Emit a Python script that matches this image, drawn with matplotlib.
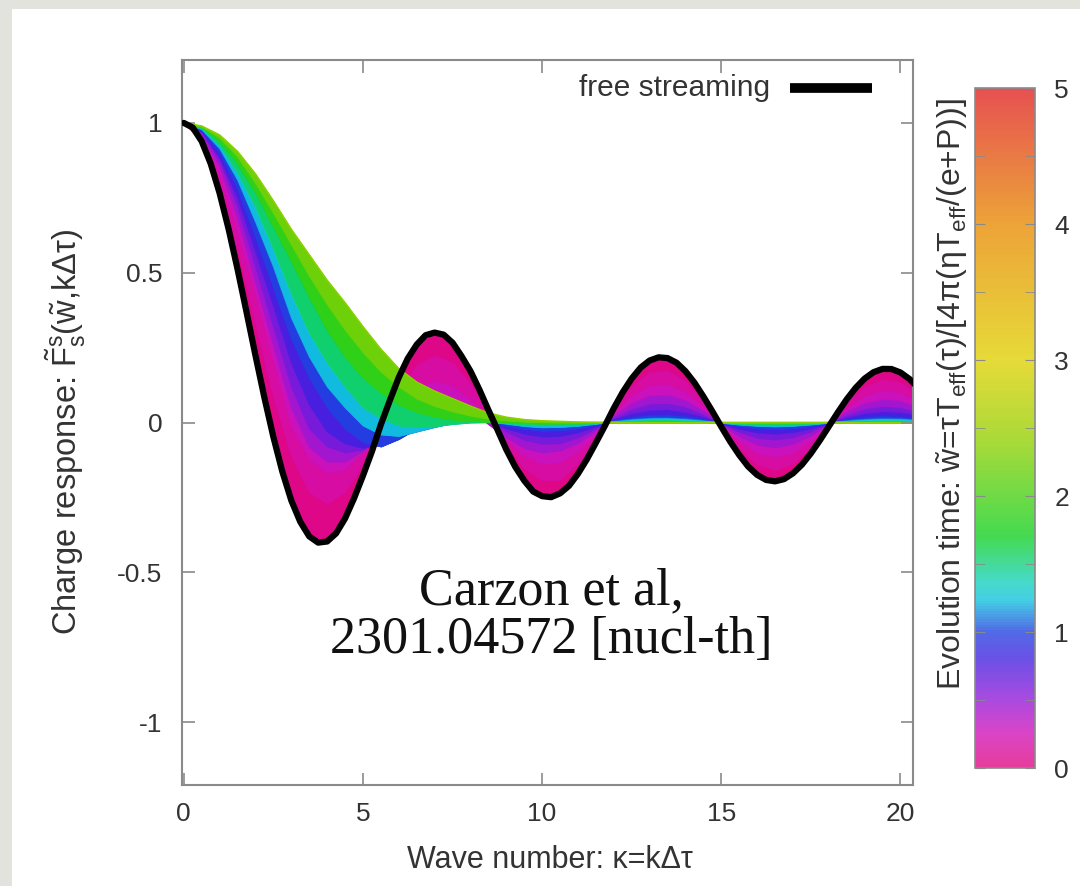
import matplotlib
matplotlib.use('Agg')
import matplotlib.pyplot as plt
import numpy as np
from matplotlib.colors import LinearSegmentedColormap, Normalize
from matplotlib.patches import Rectangle
import matplotlib.cm as cm

plt.rcParams['font.family'] = ['Liberation Sans', 'DejaVu Sans']
plt.rcParams['mathtext.fontset'] = 'custom'
plt.rcParams['mathtext.rm'] = 'Liberation Sans'
plt.rcParams['mathtext.it'] = 'Liberation Sans:italic'
plt.rcParams['axes.unicode_minus'] = False

# free streaming curve, read on a 0.25 grid (0 .. 20.5)
kappa_fine = np.arange(0, 20.51, 0.25)
free_streaming = [
    1.0, 0.9844, 0.9385, 0.8642, 0.7652, 0.6459, 0.5118, 0.3690, 0.2239, 0.0827,
    -0.0484, -0.1641, -0.2601, -0.3314, -0.3801, -0.4010, -0.3972, -0.3701, -0.3205, -0.2535,
    -0.1776, -0.0967, -0.0068, 0.0736, 0.1507, 0.2136, 0.2601, 0.2915, 0.3001, 0.2934,
    0.2663, 0.2217, 0.1717, 0.1096, 0.0419, -0.0233, -0.0903, -0.1480, -0.1939, -0.2304,
    -0.2459, -0.2493, -0.2366, -0.2114, -0.1712, -0.1226, -0.0677, -0.0115, 0.0477, 0.1013,
    0.1469, 0.1833, 0.2069, 0.2176, 0.2150, 0.1997, 0.1711, 0.1329, 0.0868, 0.0372,
    -0.0142, -0.0639, -0.1084, -0.1470, -0.1749, -0.1917, -0.1964, -0.1890, -0.1697, -0.1408,
    -0.1030, -0.0598, -0.0134, 0.0333, 0.0773, 0.1157, 0.1466, 0.1681, 0.1789, 0.1785,
    0.1670, 0.1454, 0.1151]

# family of curves at finite evolution time, read on a 0.5 grid (0 .. 20.5)
kappa = np.arange(0, 20.51, 0.5)
w_values = [0.1, 0.22, 0.36, 0.5, 0.68, 0.88, 1.1, 1.35, 1.7, 2.05, 2.4]

resp_w010 = [1.0, .946, .798, .580, .327, .086, -.110, -.232, -.270, -.231, -.134, -.012, .107, .190,
             .222, .199, .128, .030, -.072, -.153, -.193, -.190, -.137, -.054, .038, .118, .166, .172,
             .137, .070, -.011, -.086, -.140, -.158, -.136, -.082, -.010, .064, .118, .143, .134, .092]
resp_w022 = [1.0, .955, .83, .64, .43, .21, -.01, -.12, -.165, -.155, -.095, -.01, .065, .115,
             .135, .12, .075, .01, -.055, -.11, -.137, -.131, -.095, -.039, .028, .085, .120, .125,
             .099, .050, -.008, -.063, -.102, -.114, -.099, -.060, -.008, .046, .085, .104, .097, .067]
resp_w036 = [1.0, .962, .855, .685, .47, .26, .05, -.08, -.13, -.13, -.095, -.025, .04, .075,
             .088, .075, .04, -.005, -.05, -.085, -.100, -.094, -.068, -.027, .020, .062, .087, .090,
             .072, .037, -.006, -.045, -.074, -.083, -.071, -.043, -.005, .034, .062, .075, .070, .048]
resp_w050 = [1.0, .968, .873, .72, .52, .32, .12, -.02, -.08, -.10, -.09, -.05, .005, .04,
             .055, .055, .035, .005, -.03, -.058, -.071, -.069, -.050, -.020, .014, .043, .060, .062,
             .050, .025, -.004, -.031, -.051, -.057, -.049, -.030, -.004, .023, .043, .052, .048, .033]
resp_w068 = [1.0, .972, .885, .75, .57, .39, .20, .06, -.03, -.07, -.085, -.07, -.025, .01,
             .03, .035, .025, .005, -.02, -.037, -.047, -.045, -.033, -.013, .009, .028, .039, .041,
             .032, .017, -.003, -.021, -.033, -.037, -.032, -.020, -.002, .015, .028, .034, .032, .022]
resp_w088 = [1.0, .976, .90, .78, .62, .45, .28, .15, .05, -.02, -.065, -.08, -.055, -.02,
             .005, .015, .013, .003, -.01, -.021, -.027, -.026, -.019, -.0075, .005, .016, .023, .024,
             .019, .0096, -.0015, -.012, -.019, -.022, -.019, -.011, -.0014, .009, .016, .020, .018, .013]
resp_w110 = [1.0, .979, .915, .81, .67, .52, .35, .22, .12, .05, -.01, -.04, -.045, -.03,
             -.015, -.002, .004, .003, -.004, -.012, -.016, -.015, -.011, -.0045, .003, .0095, .0135, .014,
             .011, .0057, -.001, -.007, -.011, -.013, -.011, -.0067, -.001, .005, .0096, .012, .011, .0075]
resp_w135 = [1.0, .982, .925, .835, .72, .58, .43, .30, .20, .12, .05, .015, -.01, -.015,
             -.012, -.005, 0.0, .001, -.002, -.006, -.0086, -.0083, -.006, -.0024, .0017, .005, .0072, .0075,
             .006, .003, -.0005, -.0038, -.006, -.007, -.006, -.0036, -.0005, .0028, .005, .0063, .0058, .004]
resp_w170 = [1.0, .986, .94, .865, .77, .655, .54, .42, .31, .22, .15, .10, .06, .035,
             .02, .01, .005, .002, 0.0, -.002, -.0037, -.0036, -.0026, -.001, .0007, .0022, .0031, .0032,
             .0026, .0013, -.0002, -.0016, -.0026, -.003, -.0026, -.0015, -.0002, .0012, .0022, .0027, .0025, .0017]
resp_w205 = [1.0, .988, .951, .888, .80, .70, .595, .49, .395, .31, .235, .17, .12, .08,
             .055, .037, .023, .013, .007, .003, .001] + [0.0] * 21
resp_w240 = [1.0, .99, .96, .905, .83, .74, .645, .56, .475, .40, .32, .245, .18, .135,
             .105, .08, .055, .032, .018, .01, .006, .004, .002, .001] + [0.0] * 18

responses = [resp_w010, resp_w022, resp_w036, resp_w050, resp_w068, resp_w088,
             resp_w110, resp_w135, resp_w170, resp_w205, resp_w240]

cbar_ticks = [0, 1, 2, 3, 4, 5]

cmap = LinearSegmentedColormap.from_list('evo', [
    (0.00, '#e0057f'), (0.05, '#d010b8'), (0.10, '#9018d8'), (0.16, '#4020e0'),
    (0.20, '#2040e0'), (0.245, '#10c0e0'), (0.27, '#10d0c0'), (0.34, '#10d020'),
    (0.48, '#90d000'), (0.60, '#e0d000'), (0.80, '#e88a00'), (1.00, '#e02020')])
norm = Normalize(0, 5)

fig = plt.figure(figsize=(10.8, 8.86), dpi=100, facecolor='#e3e3de')
fig.patches.append(Rectangle((12 / 1080, 0), 1, 1 - 9 / 886, transform=fig.transFigure,
                             facecolor='white', edgecolor='none', zorder=-10))

ax = fig.add_axes([182 / 1080, 1 - 785 / 886, 731 / 1080, 725 / 886])

curves = [free_streaming[::2]] + responses
w_all = [0.0] + w_values
for i in range(1, len(curves)):
    wm = 0.5 * (w_all[i - 1] + w_all[i])
    col = cmap(norm(wm))
    ax.fill_between(kappa, curves[i - 1], curves[i], facecolor=col, edgecolor=col, lw=0.6,
                    zorder=1 + 0.02 * i)
    ax.plot(kappa, curves[i], color=cmap(norm(w_all[i])), lw=1.0, zorder=1.01 + 0.02 * i)

ax.plot(kappa_fine, free_streaming, color='black', lw=4.5, solid_capstyle='round', zorder=5)

ax.set_xlim(-0.05, 20.35)
ax.set_ylim(-1.21, 1.21)
ax.set_xticks([0, 5, 10, 15, 20])
ax.set_yticks([-1, -0.5, 0, 0.5, 1])
ax.set_yticklabels(['-1', '-0.5', '0', '0.5', '1'])
ax.tick_params(direction='in', length=9, width=1.2, color='#8a8a8a', labelsize=19,
               labelcolor='#333333', top=True, right=True, pad=14)
ax.tick_params(axis='x', pad=12)
for s in ax.spines.values():
    s.set_color('#8a8a8a')
    s.set_linewidth(1.5)

# key
ax.text(0.804, 0.961, 'free streaming', transform=ax.transAxes, ha='right', va='center',
        fontsize=21.5, color='#333333')
ax.plot([0.832, 0.944], [0.961, 0.961], transform=ax.transAxes, color='black', lw=7,
        solid_capstyle='butt', zorder=6)

fig.text(66 / 1080, 1 - 432 / 886,
         r'Charge response: $\tilde{\mathrm{F}}^{\mathrm{s}}_{\mathrm{s}}$($\tilde{\mathrm{w}}$,kΔτ)',
         rotation=90, ha='center', va='center', fontsize=23.5, color='#333333')
fig.text(550 / 1080, 1 - 860 / 886, 'Wave number: κ=kΔτ', ha='center', va='center',
         fontsize=22, color='#333333')

fig.text(551 / 1080, 1 - 616 / 886, 'Carzon et al,\n2301.04572 [nucl-th]',
         family=['Liberation Serif'], fontsize=37.5, ha='center', va='center',
         linespacing=1.02, color='#111111', zorder=20)

# colour bar
cax = fig.add_axes([975 / 1080, 1 - 768 / 886, 60 / 1080, 680 / 886])
sm = cm.ScalarMappable(norm=norm, cmap=cmap)
cb = fig.colorbar(sm, cax=cax, alpha=0.78)
cb.outline.set_edgecolor('#8a8a8a')
cb.outline.set_linewidth(1.2)
cb.set_ticks(cbar_ticks)
cb.set_ticklabels([str(t) for t in cbar_ticks])
cax.yaxis.set_minor_locator(matplotlib.ticker.MultipleLocator(0.5))
cax.tick_params(which='both', direction='in', length=7, color='#8a8a8a', left=True, right=True,
                labelsize=19, labelcolor='#333333', pad=14)

fig.text(952 / 1080, 1 - 394 / 886,
         r'Evolution time: $\tilde{\mathrm{w}}$=τT$_{\mathrm{eff}}$(τ)/[4π(ηT$_{\mathrm{eff}}$/(e+P))]',
         rotation=90, ha='center', va='center', fontsize=23, color='#333333')

fig.savefig('out.png', dpi=100, facecolor=fig.get_facecolor())
